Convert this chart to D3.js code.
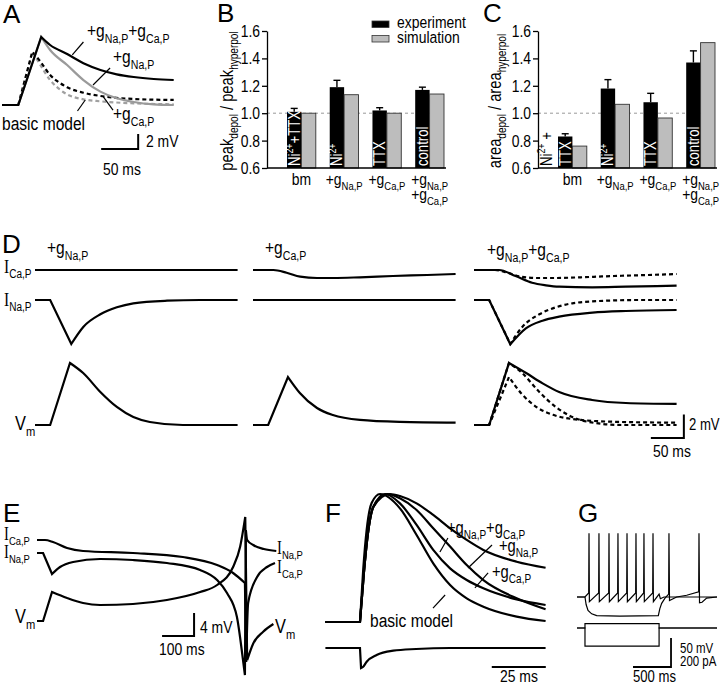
<!DOCTYPE html>
<html>
<head>
<meta charset="utf-8">
<script src="https://cdn.jsdelivr.net/npm/d3@7"></script>
<style>
  body { margin: 0; background: #fff; }
  svg { display: block; }
  text { fill: #000; }
</style>
</head>
<body>
<script>
// ---------- data: bar panels B and C ----------
var groups = ["bm", "gNa", "gCa", "both"];
var yTicks = [0.6, 0.8, 1.0, 1.2, 1.4, 1.6];
var peakExp = [1.01, 1.19, 1.02, 1.17];
var peakErr = [0.025, 0.05, 0.02, 0.02];
var peakSim = [1.00, 1.135, 1.00, 1.14];
var areaExp = [0.83, 1.18, 1.08, 1.37];
var areaErr = [0.02, 0.065, 0.065, 0.085];
var areaSim = [0.76, 1.065, 0.965, 1.515];

// ---------- data: panel A  [ms, mV, corner] ----------
var aBoth = [[-22,0],[0,0,1],[31,9.07,1],[43,8.0],[66,6.8],[88,5.56],[111,4.67],[133,4.09],[156,3.73],[183,3.47],[210,3.33]];
var aNa = [[0,0,1],[31,9.07,1],[43,7.33],[66,5.33],[88,3.33],[111,1.78],[133,0.89],[156,0.4],[183,0.09],[210,0]];
var aCa = [[0,0,1],[19,7.1,1],[30,5.78],[43,4.0],[57,2.89],[66,2.36],[88,1.64],[111,1.2],[156,0.8],[210,0.67]];
var aBasic = [[0,0,1],[19,7.1,1],[30,5.3],[43,3.33],[57,2.0],[66,1.42],[88,0.76],[111,0.49],[156,0.22],[210,0.09]];

// ---------- data: panel D  (Vm in mV, currents in a.u.) ----------
var dVmNa = [[-23,0],[0,0,1],[30,5.3,1],[50,4.44],[76,2.82],[101,1.54],[126,0.68],[151,0.26],[201,0],[284,0]];
var dVmCa = [[-23,0],[0,0,1],[30,4.1,1],[48,2.74],[74,1.45],[98,0.85],[139,0.43],[200,0.26],[284,0.2]];
var dVmBoth = [[-23,0],[0,0,1],[30,5.3,1],[56,4.44],[81,3.56],[106,2.82],[156,2.14],[207,1.88],[284,1.8]];
var dFlat = [[-23,0],[284,0]];
var dINaNa = [[-23,0],[0,0,1],[32,-44,1],[50.5,-26.7],[76,-14.3],[101,-7.3],[126,-3.3],[177,-0.7],[227,0],[284,0]];
var dICaCa = [[-23,0],[8,0],[28,-2.7],[48.5,-6.7],[74,-8],[99,-8],[139,-7.3],[189,-6],[241,-5],[284,-4]];
var dICaBoth = [[-23,0],[15,0],[40,-6],[65,-12.7],[86,-15.3],[106,-16.7],[156,-17.3],[207,-16.7],[284,-15.7]];
var dINaBoth = [[-23,0],[0,0,1],[32,-44.3,1],[55.6,-28.3],[80.8,-20.7],[106,-16.7],[156.5,-12.7],[207,-11],[284,-10]];

// ---------- data: panel E ----------
var eVm = [[-19,0],[0,0,1],[28,5.04,1],[75,4.0],[125,3.13],[178,2.78],[281,2.96],[387,3.65],[491,5.04],[544,6.26],[594,9.4],[616,12.9],[632,18.1,1],[638,-6.8,1],[657,-3.9],[688,-1.86],[720,-0.52]];
var eICa = [[-19,0],[6,0],[31,-2],[75,-8],[125,-11],[281,-13],[437,-17],[544,-25],[594,-33],[631,-43,1],[635,-122,1],[641,-63],[669,-37],[700,-27],[725,-23]];
var eINa = [[-19,0],[0,0,1],[28,-21,1],[53,-14],[94,-9],[178,-6],[281,-7],[387,-10],[491,-17],[544,-27],[575,-40],[606,-64],[625,-107],[631,-122,1],[634,23,1],[638,13],[657,8],[690,4],[729,2]];

// ---------- data: panel F (Vm normalised, current a.u.) ----------
var fBasic = [[-16,0],[0,0,1],[1.5,0.41],[3.1,0.72],[5.4,0.93],[9.3,1.0],[18.5,0.888],[26.2,0.68],[33.9,0.458],[41.7,0.289],[49.4,0.185],[57.1,0.12],[72.5,0.042],[85.9,0.008]];
var fCa = [[-16,0],[0,0,1],[1.8,0.38],[3.6,0.68],[6.2,0.9],[11.6,1.0],[18.5,0.927],[26.2,0.758],[33.9,0.563],[41.7,0.419],[49.4,0.328],[57.1,0.263],[72.5,0.177],[85.9,0.133]];
var fNa = [[-16,0],[0,0,1],[1.8,0.38],[3.6,0.68],[6.2,0.9],[12.6,1.0],[18.5,0.966],[26.2,0.875],[33.9,0.732],[41.7,0.589],[49.4,0.445],[57.1,0.328],[72.5,0.185],[85.9,0.099]];
var fBoth = [[-16,0],[0,0,1],[1.8,0.38],[3.6,0.68],[6.2,0.9],[13.9,1.0],[18.5,0.984],[26.2,0.927],[33.9,0.836],[41.7,0.732],[49.4,0.641],[57.1,0.563],[72.5,0.471],[85.9,0.424]];
var fI = [[-16,0],[0,0,1],[0.5,-20,1],[1.5,-18.7],[3.1,-13.7],[7.7,-7],[15.4,-2.7],[26,-1],[41.7,0],[85.9,0]];

// ---------- data: panel G ----------
var gSpikes = [53, 184, 316, 434, 553, 671, 776, 895];
var gLevels = {rest: -65, peak: 45, trough: -73, thresh: -58};
var gDepEnd = [[975,-60],[992,-68],[1040,-65],[1737,-65]];
var gHyp = [[-105,-65],[0,-65],[15,-78],[40,-88],[88,-94],[154,-97],[460,-98],[965,-97],[985,-85],[1009,-76],[1053,-67],[1101,-60],[1105,45],[1112,-71],[1206,-65],[1338,-62],[1496,-56],[1500,45],[1507,-75],[1540,-74],[1601,-67],[1737,-65]];
var gStep = {on: 0, off: 975, dep: 30, hyp: -125};

var SANS = '"Liberation Sans", Arial, sans-serif';
var SERIF = '"Liberation Serif", "Times New Roman", serif';
var SX = 0.82; // narrow lettering of the original

var svg = d3.select("body").append("svg")
    .attr("width", 720).attr("height", 685)
    .style("font-family", SANS);

// text with sub/superscript parts, squeezed horizontally
function rich(g, x, y, parts, size, anchor) {
  var t = g.append("text")
      .attr("transform", "translate(" + x + "," + y + ") scale(" + SX + ",1)")
      .attr("font-size", size).attr("text-anchor", anchor || "start");
  var shift = 0;
  parts.forEach(function(p) {
    var kind = p[1] || "";
    var off = kind == "sub" ? size * 0.3 : kind == "sup" ? -size * 0.42 : 0;
    var ts = t.append("tspan").text(p[0]).attr("dy", off - shift);
    if (kind == "sub" || kind == "sup") ts.attr("font-size", size * 0.68);
    if (kind == "serif") ts.attr("font-family", SERIF).attr("font-size", size * 1.05);
    shift = off;
  });
  return t;
}

var gNaP = [["+g"], ["Na,P", "sub"]];
var gCaP = [["+g"], ["Ca,P", "sub"]];
var bothP = gNaP.concat(gCaP);
var ICa = [["I", "serif"], ["Ca,P", "sub"]];
var INa = [["I", "serif"], ["Na,P", "sub"]];
var Vm = [["V"], ["m", "sub"]];

// path through points, sharp at corner points, smooth elsewhere
function tracePath(pts, x, y, curve) {
  var segs = [], cur = [];
  pts.forEach(function(p, i) {
    cur.push(p);
    if (p[2] && i > 0 && i < pts.length - 1) { segs.push(cur); cur = [p]; }
  });
  if (cur.length > 1) segs.push(cur);
  var line = d3.line().x(function(d) { return x(d[0]); })
      .y(function(d) { return y(d[1]); })
      .curve(curve || d3.curveMonotoneX);
  return segs.map(function(s, i) { return i ? line(s).replace(/^M/, "L") : line(s); }).join("");
}

function trace(g, pts, x, y, opt) {
  opt = opt || {};
  return g.append("path").attr("d", tracePath(pts, x, y, opt.curve))
      .attr("fill", "none")
      .attr("stroke", opt.color || "#000")
      .attr("stroke-width", opt.width || 2.2)
      .attr("stroke-dasharray", opt.dash || null);
}

function seg(g, x, y, p, q, w) {
  g.append("line").attr("x1", x(p[0])).attr("y1", y(p[1]))
      .attr("x2", x(q[0])).attr("y2", y(q[1]))
      .attr("stroke", "#000").attr("stroke-width", w || 1.2);
}

// L-shaped scale bar, corner at bottom right (data units)
function scaleBar(g, x, y, corner, dt, dv, w) {
  var c = [x(corner[0]), y(corner[1])];
  g.append("path")
      .attr("d", "M" + x(corner[0] - dt) + "," + c[1] + "L" + c[0] + "," + c[1] + "L" + c[0] + "," + y(corner[1] + dv))
      .attr("fill", "none").attr("stroke", "#000").attr("stroke-width", w || 2);
}

function panelLetter(x, y, s) {
  svg.append("text").attr("x", x).attr("y", y).attr("font-size", 26).text(s);
}

// ================= Panel A =================
(function() {
  var g = svg.append("g");
  var x = d3.scaleLinear().domain([-22, 210]).range([2, 173.7]);
  var y = d3.scaleLinear().domain([0, 10]).range([105, 30]);
  trace(g, aBasic, x, y, {color: "#a0a0a0", dash: "4,3"});
  trace(g, aCa, x, y, {dash: "4,3"});
  trace(g, aNa, x, y, {color: "#9a9a9a"});
  trace(g, aBoth, x, y);
  seg(g, x, y, [73, 6.67], [88, 8.4]);
  seg(g, x, y, [101, 2.67], [124, 4.93]);
  seg(g, x, y, [115, 1.07], [128, -0.67]);
  seg(g, x, y, [80, -0.8], [90.5, 0.67]);
  rich(g, 87, 37, bothP, 19);
  rich(g, 113, 63, gNaP, 19);
  rich(g, 113, 120, gCaP, 19);
  rich(g, 2, 130, [["basic model"]], 19);
  scaleBar(g, x, y, [162, -5.87], 50, 2);
  rich(g, 146, 147, [["2 mV"]], 17);
  rich(g, 103, 175, [["50 ms"]], 17);
})();
panelLetter(3, 23, "A");

// ================= Panels B, C =================
function barPanel(axisX, exp, err, sim, tags, ylab, labX) {
  var g = svg.append("g");
  var y = d3.scaleLinear().domain([0.6, 1.6]).range([168, 31]);
  var x = d3.scaleBand().domain(groups).range([axisX + 20, axisX + 177]).paddingInner(0.326);
  var xs = d3.scaleBand().domain(["exp", "sim"]).range([0, x.bandwidth()]);

  g.append("line").attr("x1", axisX).attr("x2", axisX + 179)
      .attr("y1", y(1)).attr("y2", y(1))
      .attr("stroke", "#999").attr("stroke-width", 1).attr("stroke-dasharray", "3,3");

  groups.forEach(function(k, i) {
    var x0 = x(k), xc = x0 + xs.bandwidth() / 2;
    g.append("line").attr("x1", xc).attr("x2", xc)
        .attr("y1", y(exp[i])).attr("y2", y(exp[i] + err[i]))
        .attr("stroke", "#000").attr("stroke-width", 1.4);
    g.append("line").attr("x1", xc - 3.5).attr("x2", xc + 3.5)
        .attr("y1", y(exp[i] + err[i])).attr("y2", y(exp[i] + err[i]))
        .attr("stroke", "#000").attr("stroke-width", 1.4);
    g.append("rect").attr("x", x0 + xs("exp")).attr("width", xs.bandwidth())
        .attr("y", y(exp[i])).attr("height", y(0.6) - y(exp[i]))
        .attr("fill", "#000");
    g.append("rect").attr("x", x0 + xs("sim")).attr("width", xs.bandwidth())
        .attr("y", y(sim[i])).attr("height", y(0.6) - y(sim[i]))
        .attr("fill", "#bdbdbd").attr("stroke", "#333").attr("stroke-width", 0.9);
    if (tags[i]) {
      var tg = g.append("g").attr("transform", "translate(" + (xc + 5.5) + "," + (y(0.6) - 2) + ") rotate(-90)");
      rich(tg, 0, 0, tags[i], 16).style("fill", "#fff");
    }
  });

  var ax = g.append("g").attr("transform", "translate(" + axisX + ",0)")
      .call(d3.axisLeft(y).tickValues(yTicks).tickFormat(d3.format(".1f")).tickSize(5).tickSizeOuter(0).tickPadding(2));
  ax.attr("font-size", 17).attr("font-family", SANS);
  ax.selectAll(".tick text").attr("x", -7 / SX).attr("transform", "scale(" + SX + ",1)");
  ax.selectAll("path, line").attr("stroke-width", 1.3);
  g.append("line").attr("x1", axisX).attr("x2", axisX + 179)
      .attr("y1", y(0.6)).attr("y2", y(0.6))
      .attr("stroke", "#000").attr("stroke-width", 1.3);

  // category labels
  var cx = function(k) { return x(k) + x.bandwidth() / 2; };
  rich(g, cx("bm"), 185, [["bm"]], 17, "middle");
  rich(g, cx("gNa"), 185, gNaP, 17, "middle");
  rich(g, cx("gCa"), 185, gCaP, 17, "middle");
  rich(g, cx("both"), 185, gNaP, 17, "middle");
  rich(g, cx("both"), 200, gCaP, 17, "middle");

  var lg = g.append("g").attr("transform", "translate(" + labX + ",101) rotate(-90)");
  rich(lg, 0, 0, ylab, 18, "middle");
  return {g: g, x: x, xs: xs, y: y};
}

var pB = barPanel(267, peakExp, peakErr, peakSim,
    [[["Ni"], ["2+", "sup"], ["+TTX"]], [["Ni"], ["2+", "sup"]], [["TTX"]], [["control"]]],
    [["peak"], ["depol", "sub"], [" / peak"], ["hyperpol", "sub"]], 233);
var pC = barPanel(538, areaExp, areaErr, areaSim,
    [[["TTX"]], [["Ni"], ["2+", "sup"]], [["TTX"]], [["control"]]],
    [["area"], ["depol", "sub"], [" / area"], ["hyperpol", "sub"]], 501);
// Ni2+ tag outside the short bar in C
(function() {
  var tg = pC.g.append("g").attr("transform", "translate(" + (pC.x("bm") - 6) + "," + (pC.y(0.6) - 2) + ") rotate(-90)");
  rich(tg, 0, 0, [["Ni"], ["2+", "sup"], [" +"]], 16);
})();

// legend
(function() {
  var lg = svg.append("g");
  var items = [["experiment", "#000"], ["simulation", "#bdbdbd"]];
  items.forEach(function(d, i) {
    lg.append("rect").attr("x", 372).attr("y", 21 + i * 14.5).attr("width", 17).attr("height", 6.5)
        .attr("fill", d[1]).attr("stroke", "#333").attr("stroke-width", 0.8);
    rich(lg, 397, 28 + i * 15, [[d[0]]], 17);
  });
})();
panelLetter(217, 22, "B");
panelLetter(483, 22, "C");

// ================= Panel D =================
(function() {
  var g = svg.append("g");
  var colStart = [35, 253, 474];
  var xs = colStart.map(function(c) { return d3.scaleLinear().domain([-23, 284]).range([c, c + 202.6]); });
  var yV = d3.scaleLinear().domain([0, 6]).range([425, 354.8]);
  var yCa = d3.scaleLinear().domain([-20, 0]).range([290, 270]);
  var yNa = d3.scaleLinear().domain([-50, 0]).range([350, 300]);

  trace(g, dFlat, xs[0], yCa);
  trace(g, dINaNa, xs[0], yNa);
  trace(g, dVmNa, xs[0], yV);

  trace(g, dICaCa, xs[1], yCa);
  trace(g, dFlat, xs[1], yNa);
  trace(g, dVmCa, xs[1], yV);

  trace(g, dICaCa, xs[2], yCa, {dash: "4,3"});
  trace(g, dINaNa, xs[2], yNa, {dash: "4,3"});
  trace(g, dVmNa, xs[2], yV, {dash: "4,3"});
  trace(g, dVmCa, xs[2], yV, {dash: "4,3"});
  trace(g, dICaBoth, xs[2], yCa);
  trace(g, dINaBoth, xs[2], yNa);
  trace(g, dVmBoth, xs[2], yV);

  rich(g, 4, 273, ICa, 18);
  rich(g, 4, 306, INa, 18);
  rich(g, 15, 430, Vm, 20);
  rich(g, 47, 254, gNaP, 19);
  rich(g, 265, 254, gCaP, 19);
  rich(g, 487, 256, bothP, 19);

  scaleBar(g, xs[2], yV, [295, -1.11], 50, 2);
  rich(g, 689, 430, [["2 mV"]], 16);
  rich(g, 653, 457, [["50 ms"]], 17);
})();
panelLetter(2, 253, "D");

// ================= Panel E =================
(function() {
  var g = svg.append("g");
  var x = d3.scaleLinear().domain([-19, 725]).range([37, 275]);
  var yV = d3.scaleLinear().domain([0, 4]).range([621, 598]);
  var yCa = d3.scaleLinear().domain([-100, 0]).range([640, 540]);
  var yNa = d3.scaleLinear().domain([-100, 0]).range([653, 553]);
  trace(g, eICa, x, yCa);
  trace(g, eINa, x, yNa);
  trace(g, eVm, x, yV);

  rich(g, 4, 540, ICa, 17);
  rich(g, 4, 558, INa, 17);
  rich(g, 15, 623, Vm, 20);
  rich(g, 277, 554, INa, 17);
  rich(g, 277, 573, ICa, 17);
  rich(g, 275, 633, Vm, 20);

  scaleBar(g, x, yV, [472, -2.6], 100, 4);
  rich(g, 200, 633, [["4 mV"]], 17);
  rich(g, 159, 655, [["100 ms"]], 17);
})();
panelLetter(3, 522, "E");

// ================= Panel F =================
(function() {
  var g = svg.append("g");
  var x = d3.scaleLinear().domain([-16, 86]).range([325.4, 545.8]);
  var yV = d3.scaleLinear().domain([0, 1]).range([622, 494]);
  var yI = d3.scaleLinear().domain([-20, 0]).range([668, 648]);
  trace(g, fBasic, x, yV);
  trace(g, fCa, x, yV);
  trace(g, fNa, x, yV);
  trace(g, fBoth, x, yV);
  trace(g, fI, x, yI);

  seg(g, x, yV, [37, 0.547], [40.7, 0.656]);
  seg(g, x, yV, [50, 0.422], [61.1, 0.602]);
  seg(g, x, yV, [53.2, 0.266], [59.3, 0.383]);
  seg(g, x, yV, [33.8, 0.109], [39.4, 0.211]);
  rich(g, 447, 534, bothP, 18);
  rich(g, 499, 552, gNaP, 18);
  rich(g, 492, 578, gCaP, 18);
  rich(g, 370, 627, [["basic model"]], 19);

  g.append("line").attr("x1", x(61)).attr("x2", x(86)).attr("y1", yI(-19)).attr("y2", yI(-19))
      .attr("stroke", "#000").attr("stroke-width", 2);
  rich(g, 500, 682, [["25 ms"]], 17);
})();
panelLetter(325, 522, "F");

// ================= Panel G =================
(function() {
  var g = svg.append("g");
  var x = d3.scaleLinear().domain([-105, 1737]).range([577, 717]);
  var yV = d3.scaleLinear().domain([-65, 45]).range([597, 533.2]);
  var yI = d3.scaleLinear().domain([0, 200]).range([628, 599]);

  var dep = [[-105, gLevels.rest], [0, gLevels.rest]];
  gSpikes.forEach(function(ts) {
    dep.push([ts - 4, gLevels.thresh], [ts, gLevels.peak], [ts + 5, gLevels.trough]);
  });
  dep = dep.concat(gDepEnd);
  trace(g, gHyp, x, yV, {curve: d3.curveLinear, width: 1.2});
  trace(g, dep, x, yV, {curve: d3.curveLinear, width: 1.2});

  var iDep = [[-105, 0], [gStep.on, 0], [gStep.on, gStep.dep], [gStep.off, gStep.dep], [gStep.off, 0], [1737, 0]];
  var iHyp = [[-105, 0], [gStep.on, 0], [gStep.on, gStep.hyp], [gStep.off, gStep.hyp], [gStep.off, 0], [1737, 0]];
  trace(g, iDep, x, yI, {curve: d3.curveLinear, width: 1.2});
  trace(g, iHyp, x, yI, {curve: d3.curveLinear, width: 1.2});

  scaleBar(g, x, yV, [1132, -185.7], 500, 50, 1.8);
  rich(g, 680, 653, [["50 mV"]], 14);
  rich(g, 680, 666, [["200 pA"]], 14);
  rich(g, 633, 682, [["500 ms"]], 16);
})();
panelLetter(578, 522, "G");
</script>
</body>
</html>
